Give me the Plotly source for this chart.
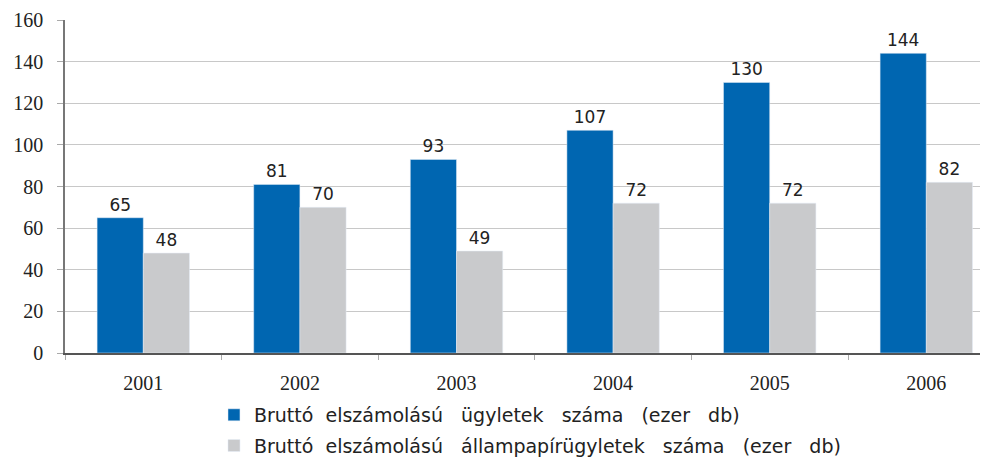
import plotly.graph_objects as go

years = ["2001", "2002", "2003", "2004", "2005", "2006"]
gross_all = [65, 81, 93, 107, 130, 144]
gross_gov = [48, 70, 49, 72, 72, 82]
sp = "\u00a0\u00a0\u00a0"
name_all = "Bruttó\u00a0\u00a0elszámolású" + sp + "ügyletek" + sp + "száma" + sp + "(ezer" + sp + "db)"
name_gov = "Bruttó\u00a0\u00a0elszámolású" + sp + "állampapírügyletek" + sp + "száma" + sp + "(ezer" + sp + "db)"

blue = "#0066B1"
gray = "#C9CACC"
lblfont = dict(family="DejaVu Sans", size=17, color="#222")

fig = go.Figure()
fig.add_bar(x=years, y=gross_all, name=name_all, marker_color=blue, legendgroup="a",
            text=[str(v) for v in gross_all], textposition="outside",
            textfont=lblfont, cliponaxis=False)
fig.add_bar(x=years, y=gross_gov, name=name_gov, marker_color=gray, legendgroup="b",
            text=[str(v) for v in gross_gov], textposition="outside",
            textfont=lblfont, cliponaxis=False)

# page body adds an 8px offset; extra height below keeps the legend from shrinking the plot
fig.update_layout(
    width=980, height=480,
    margin=dict(l=57, r=0, t=12, b=135),
    plot_bgcolor="white", paper_bgcolor="white",
    barmode="group", bargap=0.41, bargroupgap=0,
    showlegend=True,
    legend=dict(x=0.1614, y=-0.129, xanchor="left", yanchor="top",
                font=dict(family="DejaVu Sans", size=19, color="#222"),
                traceorder="grouped", tracegroupgap=3, bgcolor="rgba(0,0,0,0)"),
    font=dict(family="Liberation Serif", size=20, color="#222"),
)
fig.update_xaxes(type="category", range=[-0.5, 5.394], showline=True, linecolor="#555", linewidth=1.5,
                 ticks="outside", tickson="boundaries", ticklen=5, tickcolor="#aaa",
                 automargin=False,
                 tickfont=dict(family="Liberation Serif", size=20, color="#222"), ticklabelstandoff=11)
fig.update_yaxes(range=[0, 160], dtick=20, showline=True, linecolor="#777", linewidth=1.5,
                 showgrid=True, gridcolor="#C8C8C8", gridwidth=1, zeroline=False,
                 ticks="outside", ticklen=6, tickcolor="#aaa", automargin=False,
                 tickfont=dict(family="Liberation Serif", size=20, color="#222"), ticklabelstandoff=10)

fig.write_html("out.html")
